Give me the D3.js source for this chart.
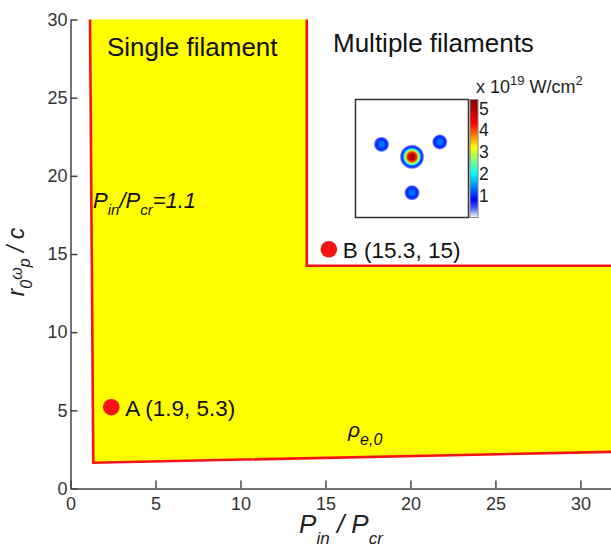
<!DOCTYPE html>
<html>
<head>
<meta charset="utf-8">
<script src="https://cdn.jsdelivr.net/npm/d3@7"></script>
<style>
  body { margin: 0; background: #fff; }
  svg { display: block; font-family: "Liberation Sans", Arial, sans-serif; }
  .axis path, .axis line { stroke: #444; stroke-width: 1.5; }
  .axis text { fill: #333; font-size: 18px; font-family: "Liberation Sans", Arial, sans-serif; }
</style>
</head>
<body>
<div id="chart"></div>
<script>
// axis ticks
var xTicks = [0, 5, 10, 15, 20, 25, 30];
var yTicks = [0, 5, 10, 15, 20, 25, 30];

// single filament region (yellow)
var regionX = [1.15, 13.9, 13.9, 31.8, 31.8, 1.34];
var regionY = [30, 30, 14.25, 14.25, 2.34, 1.65];

// red boundaries
var lowerBoundX = [1.15, 1.34, 31.8];
var lowerBoundY = [30, 1.65, 2.34];
var upperBoundX = [13.9, 13.9, 31.8];
var upperBoundY = [30, 14.25, 14.25];

// marked cases
var pointNames = ['A', 'B'];
var pointX = [2.4, 15.2];
var pointY = [5.2, 15.3];
var pointLabels = ['A (1.9, 5.3)', 'B (15.3, 15)'];

// inset: filament spots (inset units), peak in 1e19 W/cm2
var spotX = [0, -27, 24.6, 0];
var spotY = [1.4, 12, 14, -29];
var spotKind = ['center', 'side', 'side', 'side'];
var centerProfileR = [0, 2.7, 4.4, 5.8, 7.1, 8.4, 9.7, 11];
var centerProfileI = [5.3, 4.8, 4.0, 3.0, 2.0, 1.0, 0.5, 0];
var sideProfileR = [0, 2.7, 4.4, 5.8, 7];
var sideProfileI = [1.4, 1.25, 0.95, 0.5, 0];

// colour bar
var cbarTicks = [1, 2, 3, 4, 5];
var cmapValues = [0, 0.4, 0.8, 2.0, 3.2, 4.3, 5.4];
var cmapColors = ['#ffffff', '#4a6cff', '#0000ff', '#00ffff', '#ffff00', '#ff0000', '#800000'];

var width = 611, height = 550;
var svg = d3.select('#chart').append('svg')
    .attr('width', width)
    .attr('height', height);

var x = d3.scaleLinear().domain([0, 31.8]).range([70.5, 611]);
var y = d3.scaleLinear().domain([0, 30]).range([488.5, 19.5]);

var line = d3.line()
    .x(function(d) { return x(d[0]); })
    .y(function(d) { return y(d[1]); });

// yellow region
svg.append('path')
    .attr('d', line(d3.zip(regionX, regionY)) + 'Z')
    .attr('fill', '#ffff00');

// red boundaries
[[lowerBoundX, lowerBoundY], [upperBoundX, upperBoundY]].forEach(function(b) {
  svg.append('path')
      .attr('d', line(d3.zip(b[0], b[1])))
      .attr('fill', 'none')
      .attr('stroke', '#f41414')
      .attr('stroke-width', 2.6);
});

// axes, ticks pointing inwards
svg.append('g')
    .attr('class', 'axis')
    .attr('transform', 'translate(0,' + y(0) + ')')
    .call(d3.axisBottom(x).tickValues(xTicks).tickSize(-8).tickSizeOuter(0).tickPadding(9));

svg.append('g')
    .attr('class', 'axis')
    .attr('transform', 'translate(' + x(0) + ',0)')
    .call(d3.axisLeft(y).tickValues(yTicks).tickSize(-7).tickSizeOuter(0).tickPadding(3));

// markers
svg.selectAll('.pt')
    .data(pointNames)
    .enter()
    .append('circle')
      .attr('class', 'pt')
      .attr('cx', function(d, i) { return x(pointX[i]); })
      .attr('cy', function(d, i) { return y(pointY[i]); })
      .attr('r', 8.3)
      .attr('fill', '#f41414');

svg.selectAll('.ptLabel')
    .data(pointLabels)
    .enter()
    .append('text')
      .attr('class', 'ptLabel')
      .attr('x', function(d, i) { return x(pointX[i]) + 14; })
      .attr('y', function(d, i) { return y(pointY[i]) + 8.5; })
      .attr('font-size', 22.5)
      .attr('fill', '#111')
      .text(function(d) { return d; });

// region names
svg.append('text').attr('x', 107).attr('y', 56).attr('font-size', 26).attr('fill', '#111')
    .text('Single filament');
svg.append('text').attr('x', 333).attr('y', 52).attr('font-size', 26).attr('fill', '#111')
    .text('Multiple filaments');

// Pin/Pcr = 1.1
var t1 = svg.append('text').attr('x', 93).attr('y', 208).attr('fill', '#111')
    .attr('font-size', 22).attr('font-style', 'italic');
t1.append('tspan').text('P');
t1.append('tspan').attr('font-size', 15).attr('dy', 7).text('in');
t1.append('tspan').attr('dy', -7).text('/P');
t1.append('tspan').attr('font-size', 15).attr('dy', 7).text('cr');
t1.append('tspan').attr('dy', -7).text('=1.1');

// rho_e,0
var t2 = svg.append('text').attr('x', 348).attr('y', 437).attr('fill', '#111')
    .attr('font-size', 21).attr('font-style', 'italic');
t2.append('tspan').text('ρ');
t2.append('tspan').attr('font-size', 16).attr('dy', 8).text('e,0');

// axis titles
var xt = svg.append('text').attr('x', 341).attr('y', 533).attr('text-anchor', 'middle')
    .attr('fill', '#222').attr('font-size', 26).attr('font-style', 'italic');
xt.append('tspan').text('P');
xt.append('tspan').attr('font-size', 17).attr('dy', 11).text('in');
xt.append('tspan').attr('dy', -11).text(' / P');
xt.append('tspan').attr('font-size', 17).attr('dy', 11).text('cr');

var yt = svg.append('text')
    .attr('transform', 'translate(24,262)rotate(-90)')
    .attr('text-anchor', 'middle')
    .attr('fill', '#222').attr('font-size', 23).attr('font-style', 'italic');
yt.append('tspan').text('r');
yt.append('tspan').attr('font-size', 16).attr('dy', 8).text('0');
yt.append('tspan').attr('font-size', 16).attr('dy', -10).text('ω');
yt.append('tspan').attr('font-size', 16).attr('dy', 8).text('p');
yt.append('tspan').attr('dy', -6).text(' / c');

// ---- inset ----
var ix = d3.scaleLinear().domain([-50, 50]).range([355.5, 468.5]);
var iy = d3.scaleLinear().domain([-50, 50]).range([217.5, 99.5]);
var cmap = d3.scaleLinear().domain(cmapValues).range(cmapColors).clamp(true);

var defs = svg.append('defs');

svg.append('rect')
    .attr('x', ix(-50)).attr('y', iy(50))
    .attr('width', ix(50) - ix(-50)).attr('height', iy(-50) - iy(50))
    .attr('fill', '#fff');

spotKind.forEach(function(kind, i) {
  var pr = kind === 'center' ? centerProfileR : sideProfileR;
  var pi = kind === 'center' ? centerProfileI : sideProfileI;
  var rMax = pr[pr.length - 1];
  var g = defs.append('radialGradient').attr('id', 'spot' + i);
  pr.forEach(function(r, k) {
    g.append('stop')
        .attr('offset', (r / rMax * 100) + '%')
        .attr('stop-color', cmap(pi[k]));
  });
  svg.append('circle')
      .attr('cx', ix(spotX[i]))
      .attr('cy', iy(spotY[i]))
      .attr('r', ix(rMax) - ix(0))
      .attr('fill', 'url(#spot' + i + ')');
});

svg.append('rect')
    .attr('x', ix(-50)).attr('y', iy(50))
    .attr('width', ix(50) - ix(-50)).attr('height', iy(-50) - iy(50))
    .attr('fill', 'none').attr('stroke', '#333').attr('stroke-width', 1.5);

// colour bar
var cy = d3.scaleLinear().domain([0, 5.4]).range([217.5, 99.5]);
var cg = defs.append('linearGradient').attr('id', 'cbar')
    .attr('x1', 0).attr('y1', 1).attr('x2', 0).attr('y2', 0);
cmapValues.forEach(function(v, k) {
  cg.append('stop').attr('offset', (v / 5.4 * 100) + '%').attr('stop-color', cmapColors[k]);
});
svg.append('rect')
    .attr('x', 470).attr('y', cy(5.4))
    .attr('width', 8).attr('height', cy(0) - cy(5.4))
    .attr('fill', 'url(#cbar)')
    .attr('stroke', '#888').attr('stroke-width', 1);

svg.selectAll('.cbLabel')
    .data(cbarTicks)
    .enter()
    .append('text')
      .attr('class', 'cbLabel')
      .attr('x', 479)
      .attr('y', function(d) { return cy(d); })
      .attr('dy', '0.36em')
      .attr('font-size', 17.5)
      .attr('fill', '#222')
      .text(function(d) { return d; });

var ct = svg.append('text').attr('x', 476).attr('y', 93).attr('font-size', 18).attr('fill', '#222');
ct.append('tspan').text('x 10');
ct.append('tspan').attr('font-size', 13).attr('dy', -8).text('19');
ct.append('tspan').attr('dy', 8).text(' W/cm');
ct.append('tspan').attr('font-size', 13).attr('dy', -8).text('2');
</script>
</body>
</html>
